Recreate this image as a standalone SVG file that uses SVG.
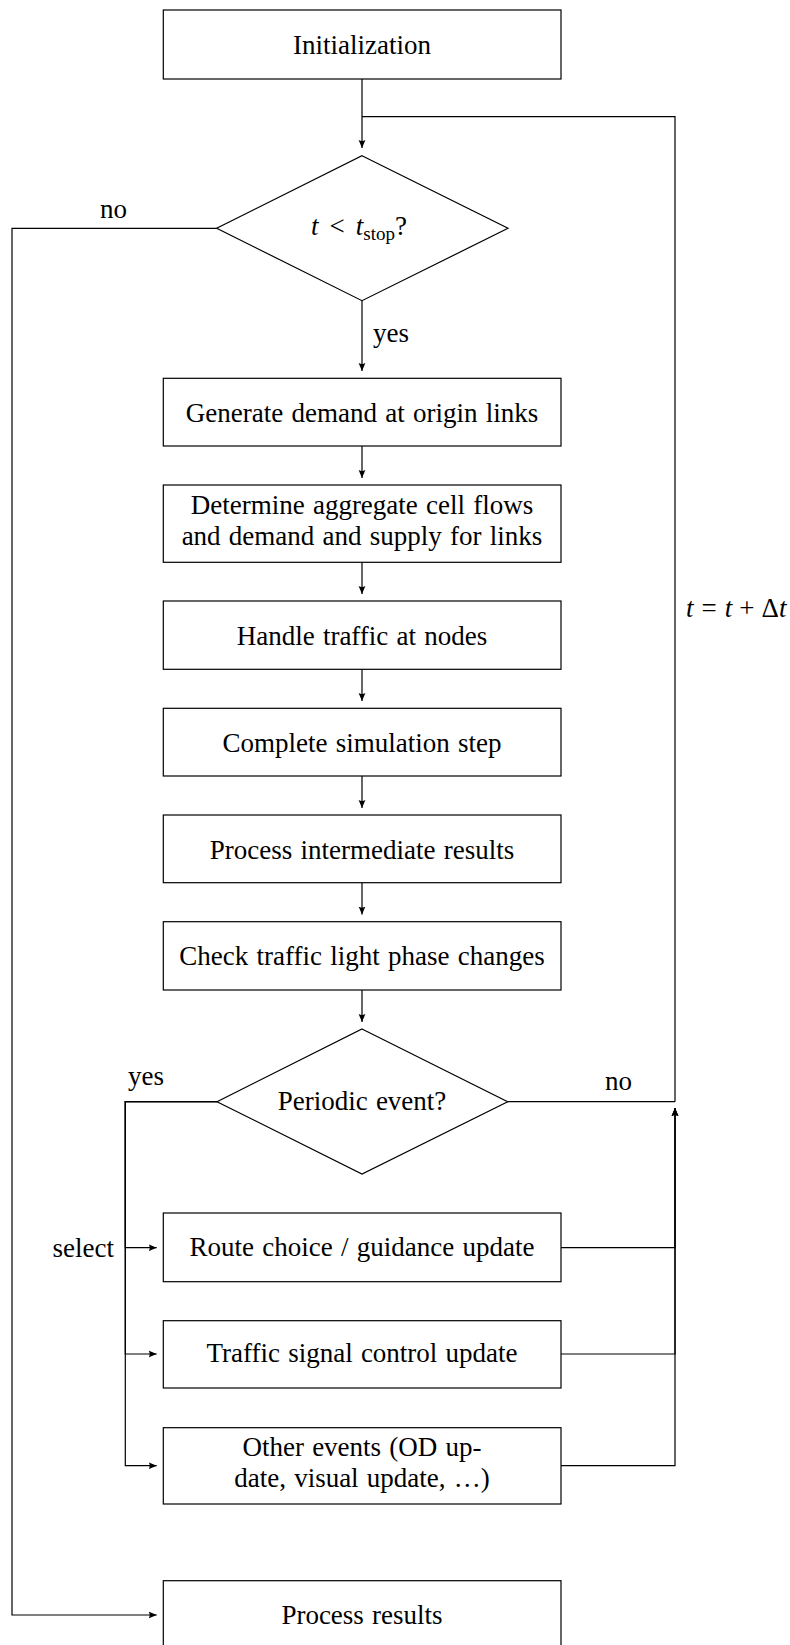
<svg xmlns="http://www.w3.org/2000/svg" width="790" height="1645" viewBox="0 0 790 1645">
<style>
  .box { fill: #fff; stroke: #000; stroke-width: 1.2; }
  .dia { fill: #fff; stroke: #000; stroke-width: 1.2; }
  .lbl { font-family: "Liberation Serif", "Times New Roman", serif; font-size: 27px; word-spacing: 1.5px; fill: #000; text-anchor: middle; }
  .side { font-family: "Liberation Serif", "Times New Roman", serif; font-size: 27px; fill: #000; }
  .conn { fill: none; stroke: #000; stroke-width: 1.2; }
  .arr { marker-end: url(#ah); }
</style>
<defs>
  <marker id="ah" markerUnits="userSpaceOnUse" markerWidth="10" markerHeight="8" viewBox="0 -4 10 8" refX="8" refY="0" orient="auto">
    <path d="M0,-3.4 L8,0 L0,3.4 Q2,0 0,-3.4 Z" fill="#000"/>
  </marker>
</defs>
<rect width="790" height="1645" fill="#fff"/>

<g id="connectors">
  <path class="conn arr" d="M362,79 V148"/>
  <path class="conn" d="M675,1101.7 V116.7 H362"/>
  <path class="conn arr" d="M362,300.7 V371"/>
  <path class="conn arr" d="M362,446 V478"/>
  <path class="conn arr" d="M362,562.3 V594"/>
  <path class="conn arr" d="M362,669.3 V701"/>
  <path class="conn arr" d="M362,776 V808"/>
  <path class="conn arr" d="M362,882.7 V914.5"/>
  <path class="conn arr" d="M362,990 V1022"/>
  <path class="conn" d="M507.7,1101.7 H675"/>
  <path class="conn arr" d="M217,1101.7 H125.3 V1247.7 H156.7"/>
  <path class="conn arr" d="M217,1101.7 H125.3 V1354 H156.7"/>
  <path class="conn arr" d="M217,1101.7 H125.3 V1465.7 H156.7"/>
  <path class="conn arr" d="M561,1247.7 H675 V1108"/>
  <path class="conn arr" d="M561,1354 H675 V1108"/>
  <path class="conn arr" d="M561,1465.7 H675 V1108"/>
  <path class="conn arr" d="M216.7,228.3 H12 V1615 H156.7"/>
  <text class="side" x="373" y="342">yes</text>
  <text class="side" x="100" y="218">no</text>
  <text class="side" x="128" y="1085">yes</text>
  <text class="side" x="605" y="1090">no</text>
  <text class="side" x="114" y="1257" text-anchor="end">select</text>
  <text class="side" x="686" y="617"><tspan font-style="italic">t</tspan><tspan dx="8">=</tspan><tspan dx="8" font-style="italic">t</tspan><tspan dx="7">+</tspan><tspan dx="7">Δ</tspan><tspan font-style="italic">t</tspan></text>
</g>

<g id="init">
  <rect class="box" x="163.3" y="10" width="397.7" height="69"/>
  <text class="lbl" x="362" y="54">Initialization</text>
</g>

<g id="cond-stop">
  <polygon class="dia" points="362,155.7 508,228.3 362,300.7 216.7,228.3"/>
  <text class="side" x="311" y="235"><tspan font-style="italic">t</tspan><tspan dx="11">&lt;</tspan><tspan dx="11" font-style="italic">t</tspan><tspan font-size="19" dy="5">stop</tspan><tspan dy="-5">?</tspan></text>
</g>

<g id="generate">
  <rect class="box" x="163.3" y="378.3" width="397.7" height="67.7"/>
  <text class="lbl" x="362" y="422">Generate demand at origin links</text>
</g>

<g id="determine">
  <rect class="box" x="163.3" y="485" width="397.7" height="77.3"/>
  <text class="lbl" x="362" y="514">Determine aggregate cell flows</text>
  <text class="lbl" x="362" y="545">and demand and supply for links</text>
</g>

<g id="handle">
  <rect class="box" x="163.3" y="601" width="397.7" height="68.3"/>
  <text class="lbl" x="362" y="644.5">Handle traffic at nodes</text>
</g>

<g id="complete">
  <rect class="box" x="163.3" y="708.3" width="397.7" height="67.7"/>
  <text class="lbl" x="362" y="752">Complete simulation step</text>
</g>

<g id="intermediate">
  <rect class="box" x="163.3" y="815" width="397.7" height="67.7"/>
  <text class="lbl" x="362" y="858.5">Process intermediate results</text>
</g>

<g id="check">
  <rect class="box" x="163.3" y="921.7" width="397.7" height="68.3"/>
  <text class="lbl" x="362" y="965">Check traffic light phase changes</text>
</g>

<g id="periodic">
  <polygon class="dia" points="362,1029 507.7,1101.7 362,1174 217,1101.7"/>
  <text class="lbl" x="362" y="1110">Periodic event?</text>
</g>

<g id="route">
  <rect class="box" x="163.3" y="1213" width="397.7" height="68.7"/>
  <text class="lbl" x="362" y="1256">Route choice / guidance update</text>
</g>

<g id="signal">
  <rect class="box" x="163.3" y="1320.7" width="397.7" height="67.3"/>
  <text class="lbl" x="362" y="1362">Traffic signal control update</text>
</g>

<g id="other">
  <rect class="box" x="163.3" y="1427.7" width="397.7" height="76.3"/>
  <text class="lbl" x="362" y="1456">Other events (OD up-</text>
  <text class="lbl" x="362" y="1487">date, visual update, …)</text>
</g>

<g id="results">
  <rect class="box" x="163.3" y="1580.7" width="397.7" height="68"/>
  <text class="lbl" x="362" y="1624">Process results</text>
</g>
</svg>
